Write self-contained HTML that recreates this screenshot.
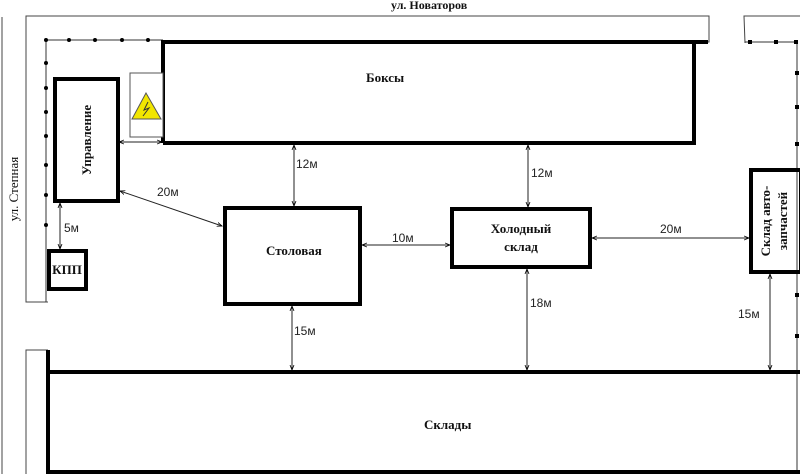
<!DOCTYPE html>
<html><head><meta charset="utf-8"><style>
html,body{margin:0;padding:0;background:#fff;}
svg{display:block;}
.s{font-family:"Liberation Serif",serif;font-weight:bold;font-size:13px;fill:#111;}
.a{font-family:"Liberation Sans",sans-serif;font-size:12px;fill:#222;}
</style></head><body>
<svg width="800" height="474" viewBox="0 0 800 474" xmlns="http://www.w3.org/2000/svg">
<defs>
<marker id="ar" markerWidth="6" markerHeight="6" refX="5" refY="3" orient="auto-start-reverse"><path d="M0,1 L5,3 L0,5" fill="none" stroke="#000" stroke-width="0.8"/></marker>
</defs>
<g fill="none" stroke="#444" stroke-width="1">
<line x1="2" y1="17" x2="2" y2="474"/>
<polyline points="48,302 26,302 26,16 709,16 709,42 694,42"/>
<polyline points="745,43 744,16 800,16"/>
<polyline points="48,350 26,350 26,474"/>
</g>
<g stroke="#333" stroke-width="1" fill="none">
<polyline points="163,40 46,40 46,302"/>
<polyline points="745,42 797,42 797,474"/>
</g>
<g fill="#000">
<circle cx="46" cy="40" r="2"/><circle cx="69" cy="40" r="2"/><circle cx="95" cy="40" r="2"/><circle cx="122" cy="40" r="2"/><circle cx="148" cy="40" r="2"/>
<circle cx="46" cy="63" r="2"/><circle cx="46" cy="88" r="2"/><circle cx="46" cy="112" r="2"/><circle cx="46" cy="136" r="2"/><circle cx="46" cy="165" r="2"/><circle cx="46" cy="195" r="2"/><circle cx="46" cy="225" r="2"/>
<rect x="748" y="40" width="4" height="4"/><rect x="774" y="40" width="4" height="4"/><rect x="794" y="40" width="4" height="4"/>
<rect x="795" y="71" width="4" height="4"/><rect x="795" y="105" width="4" height="4"/><rect x="795" y="142" width="4" height="4"/><rect x="795" y="293" width="4" height="4"/><rect x="795" y="334" width="4" height="4"/>
</g>
<g fill="none" stroke="#000" stroke-width="4">
<polyline points="163,143 163,42 708,42"/>
<polyline points="694,42 694,143 163,143"/>
<rect x="55" y="79" width="63" height="122"/>
<rect x="49" y="251" width="37" height="38"/>
<rect x="225" y="208" width="135" height="96"/>
<rect x="452" y="209" width="138" height="58"/>
<rect x="751" y="170" width="50" height="102"/>
<polyline points="48,350 48,474"/>
<polyline points="48,372 800,372"/>
<polyline points="48,472 800,472"/>
</g>
<rect x="130" y="73" width="33" height="64" fill="#fff" stroke="#555" stroke-width="1"/>
<polygon points="146,93 132,119 161,119" fill="#f2e600" stroke="#555" stroke-width="1"/>
<path d="M148,102 L144,110 L149,108 L143,116" fill="none" stroke="#333" stroke-width="1"/>
<g stroke="#222" stroke-width="1" marker-start="url(#ar)" marker-end="url(#ar)">
<line x1="119" y1="142" x2="162" y2="142"/>
<line x1="120" y1="191" x2="222" y2="226"/>
<line x1="60" y1="203" x2="60" y2="249"/>
<line x1="294" y1="145" x2="294" y2="206"/>
<line x1="528" y1="145" x2="528" y2="207"/>
<line x1="362" y1="245" x2="450" y2="245"/>
<line x1="592" y1="238" x2="749" y2="238"/>
<line x1="527" y1="269" x2="527" y2="370"/>
<line x1="292" y1="306" x2="292" y2="370"/>
<line x1="770" y1="274" x2="770" y2="370"/>
</g>
<g class="a">
<text x="157" y="196">20м</text>
<text x="64" y="232">5м</text>
<text x="296" y="168">12м</text>
<text x="531" y="177">12м</text>
<text x="392" y="242">10м</text>
<text x="660" y="233">20м</text>
<text x="530" y="307">18м</text>
<text x="294" y="335">15м</text>
<text x="738" y="318">15м</text>
</g>
<g class="s">
<text x="391" y="9" style="font-size:12px">ул. Новаторов</text>
<text x="366" y="82">Боксы</text>
<text x="266" y="255">Столовая</text>
<text x="521" y="233" text-anchor="middle">Холодный</text>
<text x="521" y="251" text-anchor="middle">склад</text>
<text x="424" y="429">Склады</text>
<text x="67" y="274" text-anchor="middle">КПП</text>
<text transform="translate(91,140) rotate(-90)" text-anchor="middle">Управление</text>
<text transform="translate(18,189) rotate(-90)" text-anchor="middle" style="font-weight:normal">ул. Степная</text>
<text transform="translate(770,221) rotate(-90)" text-anchor="middle">Склад авто-</text>
<text transform="translate(787,221) rotate(-90)" text-anchor="middle">запчастей</text>
</g>
</svg>
</body></html>
